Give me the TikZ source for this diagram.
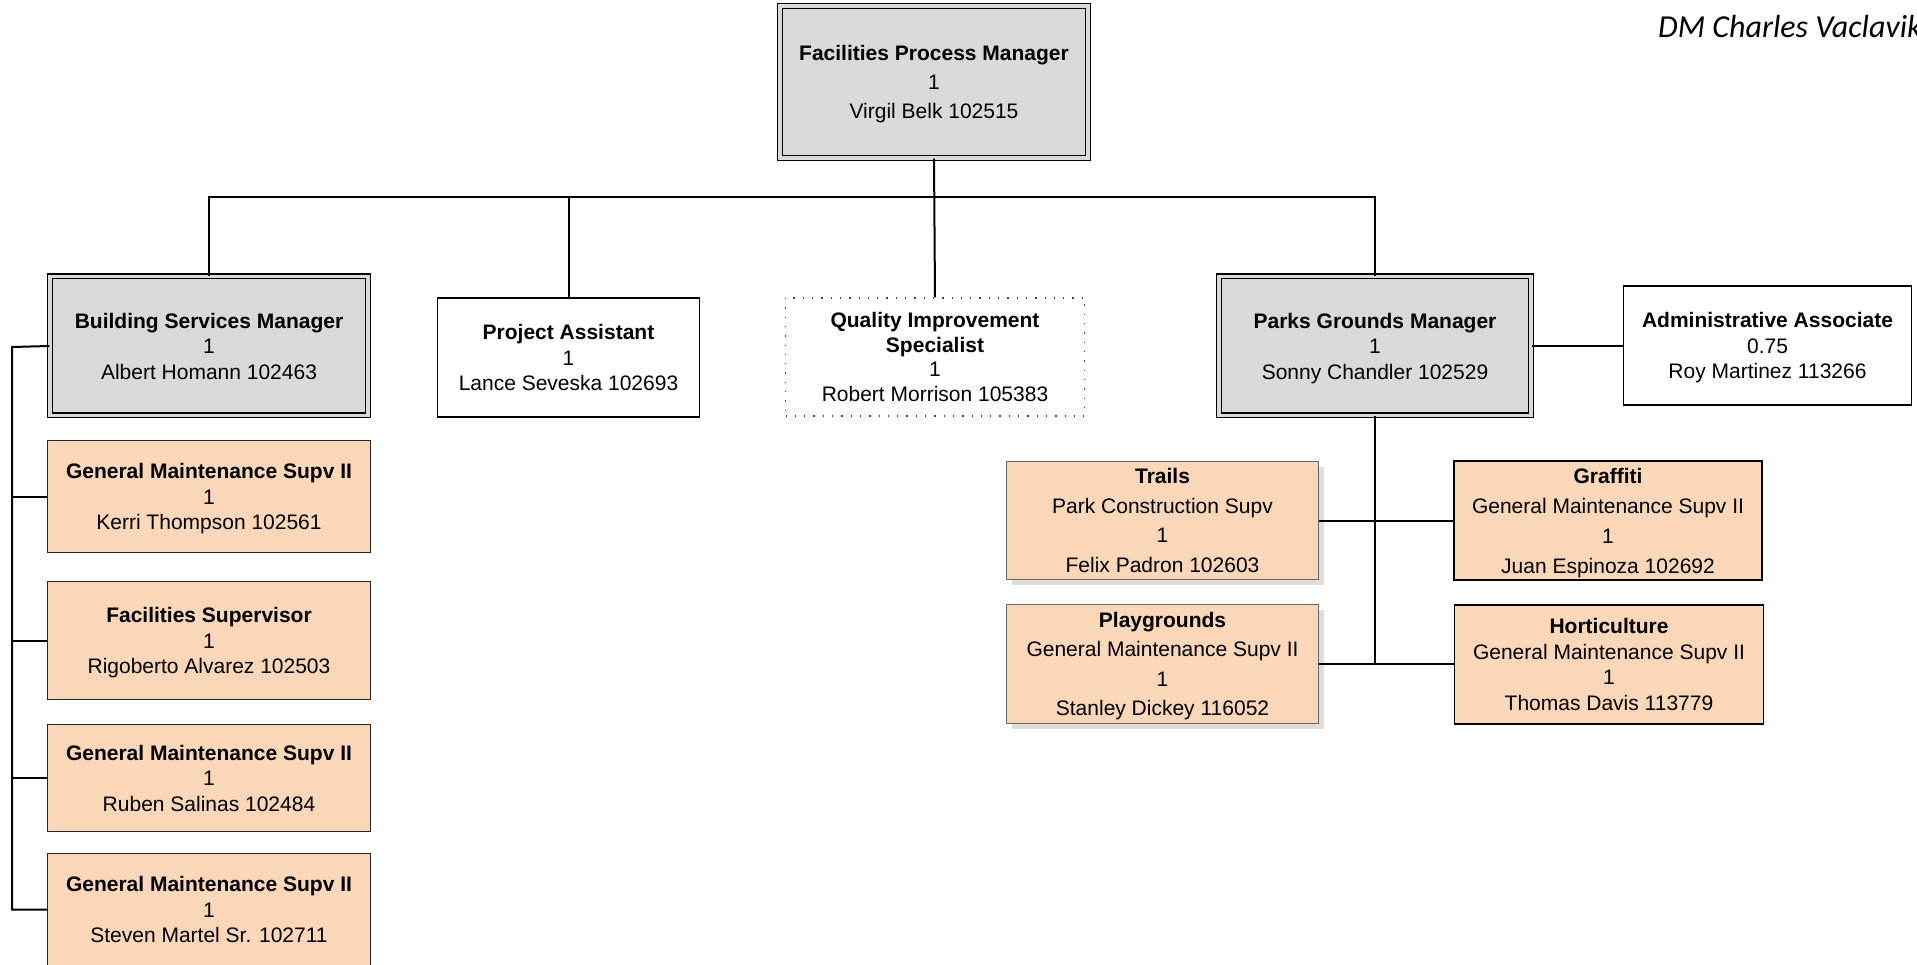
\documentclass[tikz,border=0pt]{standalone}
\usepackage{fontspec}
\setmainfont{Liberation Sans}
\newfontfamily\calibfont{Carlito}
\usetikzlibrary{shadows}
\definecolor{mgrey}{RGB}{217,217,217}
\definecolor{peach}{RGB}{250,215,185}
\definecolor{shadowgrey}{RGB}{222,222,222}
\begin{document}
\begin{tikzpicture}[x=1pt,y=-1pt,
  every node/.style={inner sep=0pt, align=center, font=\fontsize{21}{25.5}\selectfont, text depth=0pt},
  mgr/.style={draw=black, line width=1.3pt, double=mgrey, double distance=3.4pt, fill=mgrey},
  plainbox/.style={draw=black, line width=1.4pt, fill=white},
  dotbox/.style={draw=black!75, line width=1.3pt, dash pattern=on 1.3pt off 8pt, fill=white},
  subbox/.style={draw=black!85, line width=1.4pt, fill=peach},
  subshadow/.style={draw=black!60, line width=1.2pt, fill=peach, drop shadow={shadow xshift=5pt, shadow yshift=-5pt, fill=shadowgrey, opacity=1}},
  subthick/.style={draw=black, line width=1.9pt, fill=peach},
  conn/.style={line width=2pt, black}
]
\useasboundingbox[fill=white] (0,0) rectangle (1917,965);

% top
\node[mgr, minimum width=308pt, minimum height=152pt] (fpm) at (934,82)
  {\textbf{Facilities Process Manager}\\[3.5pt]1\\[3.5pt]Virgil Belk 102515};

% second row
\node[mgr, minimum width=318pt, minimum height=139pt] (bsm) at (209,346)
  {\textbf{Building Services Manager}\\1\\Albert Homann 102463};
\node[plainbox, minimum width=262pt, minimum height=119pt] (pa) at (568.5,357.5)
  {\textbf{Project Assistant}\\1\\Lance Seveska 102693};
\node[dotbox, minimum width=299pt, minimum height=118pt] (qis) at (935,357)
  {\textbf{Quality Improvement}\\[-1pt]\textbf{Specialist}\\[-1pt]1\\[-1pt]Robert Morrison 105383};
\node[mgr, minimum width=312pt, minimum height=139pt] (pgm) at (1375,346)
  {\textbf{Parks Grounds Manager}\\1\\Sonny Chandler 102529};
\node[plainbox, minimum width=288pt, minimum height=119pt] (aa) at (1767.5,345.5)
  {\textbf{Administrative Associate}\\0.75\\Roy Martinez 113266};

% building services children
\node[subbox, minimum width=323pt, minimum height=112pt] (kerri) at (209,496.5)
  {\textbf{General Maintenance Supv II}\\1\\Kerri Thompson 102561};
\node[subbox, minimum width=323pt, minimum height=118pt] (fs) at (209,640.5)
  {\textbf{Facilities Supervisor}\\1\\Rigoberto Alvarez 102503};
\node[subbox, minimum width=323pt, minimum height=107pt] (ruben) at (209,778)
  {\textbf{General Maintenance Supv II}\\1\\Ruben Salinas 102484};
\node[subbox, minimum width=323pt, minimum height=112pt] (steven) at (209,909.5)
  {\textbf{General Maintenance Supv II}\\1\\Steven Martel Sr. 102711};

% parks children
\node[subshadow, minimum width=312pt, minimum height=118pt] (trails) at (1162.5,520.5)
  {\textbf{Trails}\\[4pt]Park Construction Supv\\[4pt]1\\[4pt]Felix Padron 102603};
\node[subthick, minimum width=308pt, minimum height=119pt] (graffiti) at (1608,520.5)
  {\textbf{Graffiti}\\[4.5pt]General Maintenance Supv II\\[4.5pt]1\\[4.5pt]Juan Espinoza 102692};
\node[subshadow, minimum width=312pt, minimum height=119pt] (play) at (1162.5,664)
  {\textbf{Playgrounds}\\[4pt]General Maintenance Supv II\\[4pt]1\\[4pt]Stanley Dickey 116052};
\node[subthick, minimum width=309pt, minimum height=119pt] (hort) at (1609,664.5)
  {\textbf{Horticulture}\\General Maintenance Supv II\\1\\Thomas Davis 113779};

% title
\node[anchor=west, font=\calibfont\itshape\fontsize{32}{38}\selectfont] (dm) at (1658,26) {DM Charles Vaclavik};

% connectors
\coordinate (bar) at (934,197);
\draw[conn] (fpm.south) -- (qis.north);
\draw[conn] (bsm.north) |- (bar) -| (pgm.north);
\draw[conn] (pa.north) -- (pa.north |- bar);
\draw[conn] (pgm.east) -- (pgm.east -| aa.west);

\coordinate (sp) at (12,347);
\draw[conn] (bsm.west) -- (sp) |- (steven.west);
\draw[conn] (sp |- kerri.west) -- (kerri.west);
\draw[conn] (sp |- fs.west) -- (fs.west);
\draw[conn] (sp |- ruben.west) -- (ruben.west);

\draw[conn] (pgm.south) -- (pgm.south |- play.east);
\draw[conn] (trails.east) -- (graffiti.west);
\draw[conn] (play.east) -- (play.east -| hort.west);
\end{tikzpicture}
\end{document}
